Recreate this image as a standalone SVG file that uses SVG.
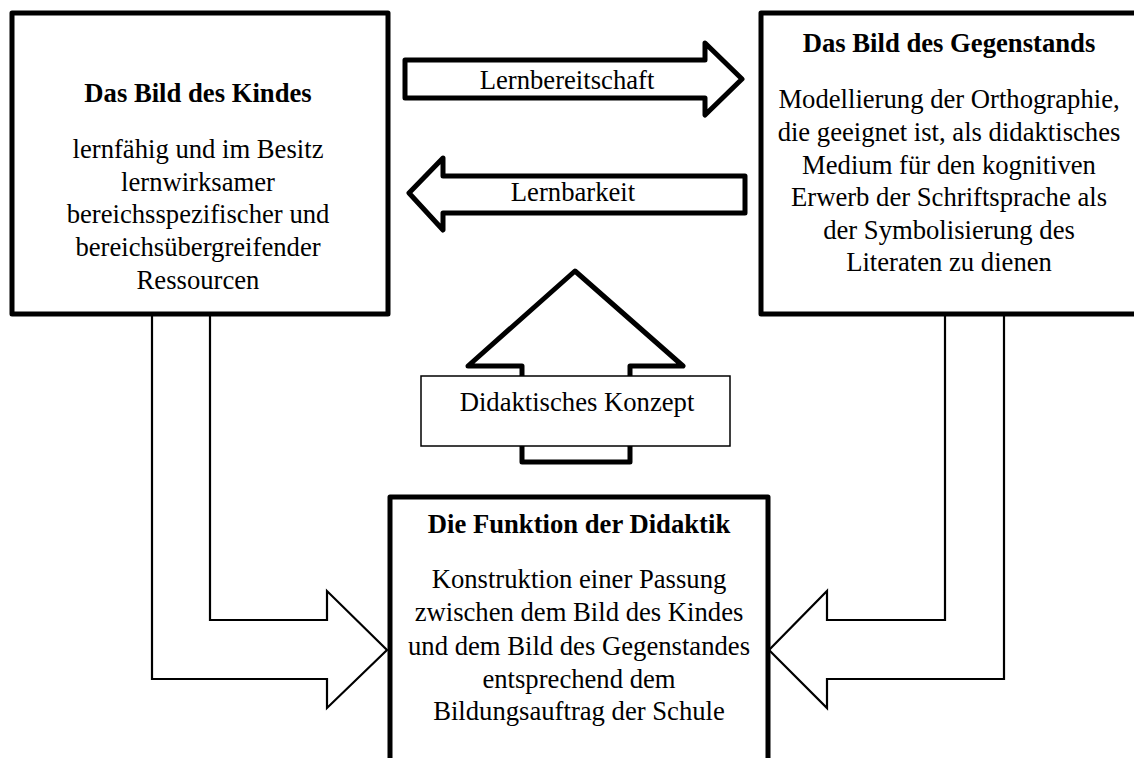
<svg xmlns="http://www.w3.org/2000/svg" width="1134" height="758" viewBox="0 0 1134 758">
<style>
.box{fill:#fff;stroke:#000;stroke-width:5;stroke-linejoin:round}
.big{fill:#fff;stroke:#000;stroke-width:5;stroke-linejoin:round}
.thin{fill:#fff;stroke:#000;stroke-width:2.2;stroke-linejoin:miter}
.lbl{fill:#fff;stroke:#000;stroke-width:1.5}
text{font-family:"Liberation Serif","Times New Roman",serif;font-size:26.67px;fill:#000;text-anchor:middle}
.t{font-weight:bold}
</style>
<rect width="1134" height="758" fill="#fff"/>
<g id="connectors">
<path class="thin" d="M152,314 V679 H327 V708 L387,650 L327,591 V620 H210 V314"/>
<path class="thin" d="M1004,314 V679 H827 V708 L769,650 L827,591 V620 H945 V314"/>
<path class="big" d="M405,60 H705 V43 L742,79 L705,115 V98 H405 Z"/>
<path class="big" d="M745,176 H443 V158 L409,193 L443,230 V213 H745 Z"/>
<path class="big" d="M575,271 L683,366 H630 V462 H522 V366 H468 Z"/>
</g>
<g id="label-lernbereitschaft"><text x="567" y="89">Lernbereitschaft</text></g>
<g id="label-lernbarkeit"><text x="573" y="201">Lernbarkeit</text></g>
<g id="kind">
<rect class="box" x="12" y="13" width="376" height="301"/>
<text class="t" x="198" y="102">Das Bild des Kindes</text>
<text x="198" y="158">lernfähig und im Besitz</text>
<text x="198" y="191">lernwirksamer</text>
<text x="198" y="223">bereichsspezifischer und</text>
<text x="198" y="256">bereichsübergreifender</text>
<text x="198" y="289">Ressourcen</text>
</g>
<g id="gegenstand">
<rect class="box" x="761" y="13" width="380" height="301"/>
<text class="t" x="949" y="52">Das Bild des Gegenstands</text>
<text x="949" y="108">Modellierung der Orthographie,</text>
<text x="949" y="141">die geeignet ist, als didaktisches</text>
<text x="949" y="174">Medium für den kognitiven</text>
<text x="949" y="206">Erwerb der Schriftsprache als</text>
<text x="949" y="239">der Symbolisierung des</text>
<text x="949" y="271">Literaten zu dienen</text>
</g>
<g id="konzept">
<rect class="lbl" x="421" y="376" width="309" height="70"/>
<text x="577" y="411">Didaktisches Konzept</text>
</g>
<g id="funktion">
<rect class="box" x="390" y="497" width="378" height="290"/>
<text class="t" x="579" y="533">Die Funktion der Didaktik</text>
<text x="579" y="588">Konstruktion einer Passung</text>
<text x="579" y="621">zwischen dem Bild des Kindes</text>
<text x="579" y="655">und dem Bild des Gegenstandes</text>
<text x="579" y="688">entsprechend dem</text>
<text x="579" y="720">Bildungsauftrag der Schule</text>
</g>
</svg>
